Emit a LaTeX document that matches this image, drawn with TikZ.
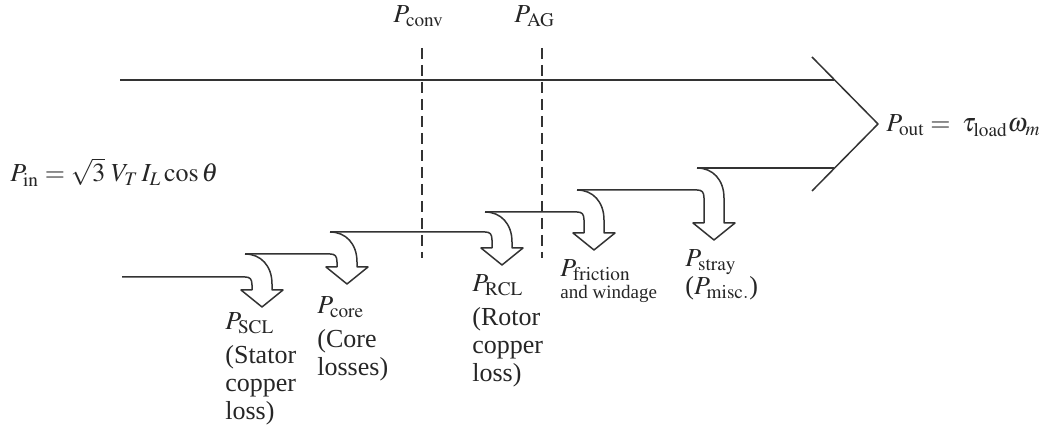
\documentclass[tikz,border=0pt]{standalone}
\usepackage{mathptmx}
\usepackage{fontspec}
\setmainfont{Liberation Serif}
\usetikzlibrary{positioning}
\begin{document}
\begin{tikzpicture}[x=0.5pt,y=-0.5pt,line join=round,
    flow/.style={draw=black!80,line width=0.75pt},
    gap/.style={draw=black!80,line width=0.75pt,dash pattern=on 5.5pt off 3pt},
    every node/.style={inner sep=0pt,text=black!85,font=\fontsize{13}{14}\selectfont},
    loss/.style={align=left,anchor=north west}]
  \useasboundingbox (0,0) rectangle (1046,431);
  % main flow with output head
  \draw [flow] (120,80) -- (834,80);
  \draw [flow] (812,57) -- (878,124) -- (812,191);
  \foreach \xa/\xb/\yl/\yh/\yb in {122/245/277/254/290, 245/330/254/232/267,
      330/485/232/212/248, 485/577/212/190/233, 577/697/190/168/223}
    \draw [flow] (\xa,\yl) -- (\xb,\yl)
      .. controls (\xb+5,\yl) and (\xb+7,\yl+2) .. (\xb+7,\yl+8) -- (\xb+7,\yb)
      -- (\xb-4,\yb) -- (\xb+17,\yb+17) -- (\xb+38,\yb) -- (\xb+27,\yb)
      -- (\xb+27,\yh+30) .. controls (\xb+27,\yh+12) and (\xb+16,\yh) .. (\xb,\yh);
  \draw [flow] (697,168) -- (834,168);
  \draw [gap] (422,48) -- (422,258);
  \draw [gap] (542,48) -- (542,258);
  % labels
  \node [anchor=base west] (pin) at (10,182) {$P_{\mathrm{in}} = \sqrt{3}\;V_T\,I_L \cos\theta$};
  \node [anchor=base west] (pout) at (886,132) {$P_{\mathrm{out}} = \;\tau_{\mathrm{load}}\omega_m$};
  \node [anchor=base west] (conv) at (393,23) {$P_{\mathrm{conv}}$};
  \node [anchor=base west] (ag) at (514,23) {$P_{\mathrm{AG}}$};
  \node [loss] (scl) at (225,312) {$P_{\mathrm{SCL}}$\\[3pt](Stator\\copper\\loss)};
  \node [loss] (core) at (317,296) {$P_{\mathrm{core}}$\\[3pt](Core\\losses)};
  \node [loss] (rcl) at (472,274) {$P_{\mathrm{RCL}}$\\[3pt](Rotor\\copper\\loss)};
  \node [loss] (fw) at (560,259) {$P_{\mathrm{friction}}$\\[-3pt]{\fontsize{9.5}{11}\selectfont and windage}};
  \node [loss] (stray) at (685,249) {$P_{\mathrm{stray}}$\\($P_{\mathrm{misc.}}$)};
\end{tikzpicture}
\end{document}
